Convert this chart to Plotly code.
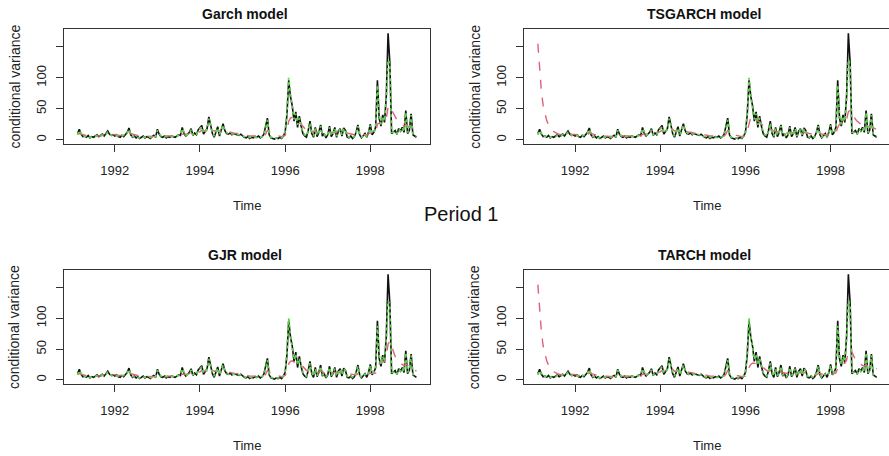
import plotly.graph_objects as go

# Semi-monthly observations, 1991.125 .. 1999.083
START_YEAR = 1991.125
STEP = 1 / 24

# Realised (squared-return) variance, one list per calendar year
black_1991 = [10, 17, 9, 5, 6, 4, 7, 3, 5, 4, 6, 8, 5, 7, 9, 6, 10, 14, 9, 7, 8]
black_1992 = [6, 8, 5, 4, 7, 5, 9, 12, 19, 8, 4, 6, 3, 5, 2, 4, 6, 3, 5, 4, 2, 5, 7, 4]
black_1993 = [17, 9, 5, 4, 6, 3, 5, 4, 6, 5, 4, 6, 8, 7, 20, 10, 6, 9, 12, 18, 7, 11, 8, 16]
black_1994 = [20, 23, 9, 14, 18, 37, 25, 10, 4, 14, 21, 6, 18, 26, 15, 10, 9, 11, 8, 10, 9, 8, 7, 9]
black_1995 = [6, 4, 3, 5, 2, 4, 3, 5, 4, 6, 3, 5, 9, 20, 35, 8, 3, 2, 1, 3, 2, 4, 2, 6]
black_1996 = [12, 40, 96, 70, 55, 30, 45, 20, 38, 22, 10, 6, 4, 15, 30, 10, 4, 20, 5, 12, 24, 6, 10, 3]
black_1997 = [8, 22, 5, 10, 20, 4, 14, 18, 6, 19, 15, 4, 3, 6, 2, 5, 12, 24, 8, 3, 6, 10, 4, 12]
black_1998 = [25, 8, 12, 20, 96, 35, 22, 40, 28, 70, 172, 125, 10, 12, 15, 9, 18, 14, 20, 12, 47, 10, 15, 42]
black_1999 = [8, 6, 4]

# Second variance measure (dotted green)
green_1991 = [8, 15, 10, 6, 5, 5, 6, 4, 4, 5, 5, 7, 6, 6, 8, 7, 9, 12, 10, 7, 7]
green_1992 = [7, 7, 6, 5, 6, 6, 8, 11, 17, 9, 5, 5, 4, 4, 3, 4, 5, 4, 4, 4, 3, 4, 6, 5]
green_1993 = [15, 10, 6, 5, 5, 4, 5, 5, 5, 5, 5, 6, 7, 8, 18, 11, 7, 9, 11, 16, 8, 11, 9, 14]
green_1994 = [18, 21, 11, 13, 17, 34, 24, 11, 6, 13, 19, 8, 17, 24, 15, 11, 9, 10, 9, 9, 9, 8, 8, 8]
green_1995 = [6, 5, 4, 4, 3, 4, 4, 4, 4, 5, 4, 5, 8, 18, 32, 10, 4, 3, 2, 3, 3, 3, 3, 6]
green_1996 = [14, 42, 100, 72, 52, 33, 42, 24, 35, 24, 12, 8, 6, 14, 27, 12, 6, 18, 7, 12, 22, 8, 9, 5]
green_1997 = [9, 20, 7, 10, 18, 6, 13, 17, 8, 18, 14, 6, 4, 6, 4, 5, 11, 22, 9, 4, 6, 9, 6, 11]
green_1998 = [23, 10, 12, 19, 88, 40, 25, 38, 30, 66, 129, 122, 12, 12, 14, 10, 17, 14, 19, 13, 44, 12, 15, 40]
green_1999 = [9, 6, 5]

# Fitted conditional variance (dashed red), common years
red_1992 = [8, 8, 7, 7, 7, 6, 7, 8, 11, 10, 9, 8, 7, 7, 6, 6, 6, 5, 5, 5, 5, 5, 5, 5]
red_1993 = [8, 8, 7, 6, 6, 6, 5, 5, 5, 5, 5, 5, 6, 6, 9, 9, 8, 9, 10, 12, 11, 11, 11, 12]
red_1994 = [13, 15, 14, 14, 15, 20, 20, 17, 14, 14, 15, 13, 14, 16, 15, 13, 12, 12, 11, 11, 10, 10, 9, 9]
red_1995 = [9, 8, 7, 7, 6, 6, 6, 6, 5, 5, 5, 5, 6, 9, 15, 13, 11, 9, 8, 7, 6, 6, 5, 6]
red_1997 = [10, 12, 11, 11, 12, 11, 11, 12, 11, 12, 12, 11, 10, 9, 8, 8, 8, 10, 10, 9, 8, 8, 8, 9]

# Model-specific parts of the fitted variance
red_1991_sym = [9, 10, 9, 8, 7, 7, 6, 6, 6, 5, 5, 6, 6, 6, 7, 7, 8, 9, 9, 8, 8]
red_1991_ts = [155, 110, 78, 55, 40, 31, 24, 19, 16, 13, 11, 10, 9, 8, 8, 8, 9, 10, 10, 9, 9]

red_1996_garch = [7, 15, 30, 35, 36, 33, 32, 28, 28, 25, 21, 18, 15, 15, 17, 15, 13, 14, 12, 12, 14, 13, 12, 11]
red_1998_garch = [11, 10, 10, 11, 25, 27, 26, 28, 28, 35, 52, 55, 48, 42, 36, 32, 28, 26, 24, 22, 25, 22, 20, 22]
red_1999_garch = [18, 16, 14]

red_1996_gjr = [7, 13, 26, 30, 31, 29, 29, 27, 27, 25, 21, 18, 15, 14, 17, 15, 13, 14, 12, 12, 14, 13, 12, 11]
red_1998_gjr = [11, 10, 10, 11, 22, 26, 27, 30, 30, 38, 58, 63, 55, 46, 38, 33, 29, 27, 25, 23, 26, 23, 21, 22]
red_1999_gjr = [19, 16, 14]

red_1996_tsgarch = [7, 14, 28, 36, 38, 35, 33, 30, 29, 26, 22, 19, 16, 15, 17, 16, 14, 14, 13, 12, 14, 13, 12, 11]
red_1998_tsgarch = [11, 10, 10, 11, 20, 25, 26, 28, 28, 33, 45, 48, 44, 38, 33, 30, 27, 25, 23, 22, 24, 22, 20, 21]
red_1999_tsgarch = [19, 18, 17]

red_1996_tarch = [6, 10, 20, 25, 27, 27, 26, 25, 25, 23, 20, 17, 15, 14, 15, 14, 13, 13, 12, 12, 13, 12, 11, 10]
red_1998_tarch = [10, 9, 10, 11, 19, 24, 25, 27, 27, 32, 46, 50, 45, 38, 33, 29, 26, 25, 23, 22, 25, 22, 21, 22]
red_1999_tarch = [20, 19, 18]

model_titles = ["Garch model", "TSGARCH model", "GJR model", "TARCH model"]
x_tick_vals = [1992, 1994, 1996, 1998]
x_tick_text = ["1992", "1994", "1996", "1998"]
y_tick_vals = [0, 50, 100, 150]
y_tick_text = ["0", "50", "100", ""]

black = (black_1991 + black_1992 + black_1993 + black_1994 + black_1995
         + black_1996 + black_1997 + black_1998 + black_1999)
green = (green_1991 + green_1992 + green_1993 + green_1994 + green_1995
         + green_1996 + green_1997 + green_1998 + green_1999)


def fitted(y1991, y1996, y1998, y1999):
    return (y1991 + red_1992 + red_1993 + red_1994 + red_1995
            + y1996 + red_1997 + y1998 + y1999)


red_series = [
    fitted(red_1991_sym, red_1996_garch, red_1998_garch, red_1999_garch),
    fitted(red_1991_ts, red_1996_tsgarch, red_1998_tsgarch, red_1999_tsgarch),
    fitted(red_1991_sym, red_1996_gjr, red_1998_gjr, red_1999_gjr),
    fitted(red_1991_ts, red_1996_tarch, red_1998_tarch, red_1999_tarch),
]

times = [START_YEAR + i * STEP for i in range(len(black))]

W, H = 889, 456
FONT = "Liberation Sans, Arial, sans-serif"
TEXT = "#222"

# panel boxes in pixels: (left, right, top, bottom)
boxes = [
    (64, 430, 29, 144),
    (524.3, 890.3, 29, 144),
    (64, 430, 270, 384),
    (524.3, 890.3, 270, 384),
]

# R-style 4% padding of the data range
t0, t1 = times[0], times[-1]
pad_t = 0.04 * (t1 - t0)
xr = [t0 - pad_t, t1 + pad_t]
ymax = max(max(black), max(max(r) for r in red_series))
pad_y = 0.04 * ymax
yr = [-pad_y, ymax + pad_y]

fig = go.Figure()
layout = {}
annotations = []

for k, (l, r, top, bot) in enumerate(boxes):
    ax = "" if k == 0 else str(k + 1)
    dom_r = min(r / W, 1.0)
    x_hi = xr[0] + (xr[1] - xr[0]) * (dom_r * W - l) / (r - l)
    fig.add_trace(go.Scatter(x=times, y=black, xaxis="x" + ax, yaxis="y" + ax,
                             mode="lines", line=dict(color="#111", width=1.6),
                             showlegend=False))
    fig.add_trace(go.Scatter(x=times, y=red_series[k], xaxis="x" + ax, yaxis="y" + ax,
                             mode="lines", line=dict(color="#E0607A", width=1.4, dash="dash"),
                             showlegend=False))
    fig.add_trace(go.Scatter(x=times, y=green, xaxis="x" + ax, yaxis="y" + ax,
                             mode="lines", line=dict(color="#61D04F", width=1.8, dash="dot"),
                             showlegend=False))
    axis_common = dict(showgrid=False, zeroline=False, showline=True, mirror=True,
                       linecolor="#333", linewidth=1.3, ticks="outside", ticklen=7,
                       tickcolor="#333", tickwidth=1.2,
                       tickfont=dict(family=FONT, size=13, color=TEXT))
    layout["xaxis" + ax] = dict(axis_common, domain=[l / W, dom_r], range=[xr[0], x_hi],
                                anchor="y" + ax, tickvals=x_tick_vals, ticktext=x_tick_text,
                                ticklabelstandoff=7)
    layout["yaxis" + ax] = dict(axis_common, domain=[1 - bot / H, 1 - top / H], range=yr,
                                anchor="x" + ax, tickvals=y_tick_vals, ticktext=y_tick_text,
                                tickangle=-90, ticklabelstandoff=5)
    cx = (l + r) / 2 - (2 if k % 2 == 0 else 3)
    annotations.append(dict(text="<b>%s</b>" % model_titles[k], x=cx / W, y=1 - (top - 15) / H,
                            xref="paper", yref="paper", showarrow=False,
                            font=dict(family=FONT, size=14, color="#111"),
                            xanchor="center", yanchor="middle"))
    annotations.append(dict(text="Time", x=(l + 183) / W, y=1 - (bot + 61) / H,
                            xref="paper", yref="paper", showarrow=False,
                            font=dict(family=FONT, size=13, color=TEXT),
                            xanchor="center", yanchor="middle"))
    annotations.append(dict(text="conditional variance", x=(l - 50) / W, y=1 - (top + bot) / 2 / H,
                            xref="paper", yref="paper", showarrow=False, textangle=-90,
                            font=dict(family=FONT, size=14, color=TEXT),
                            xanchor="center", yanchor="middle"))

annotations.append(dict(text="Period 1", x=461 / W, y=1 - 214 / H, xref="paper", yref="paper",
                        showarrow=False, font=dict(family=FONT, size=20, color="#111"),
                        xanchor="center", yanchor="middle"))

fig.update_layout(width=W, height=H, margin=dict(l=0, r=0, t=0, b=0),
                  paper_bgcolor="white", plot_bgcolor="white",
                  annotations=annotations, **layout)

fig.write_html("out.html")
